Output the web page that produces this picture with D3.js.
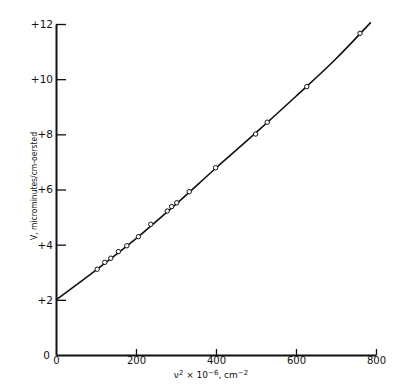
<!doctype html>
<html>
  <head>
    <script src="https://cdnjs.cloudflare.com/ajax/libs/d3/7.8.5/d3.min.js"></script>
    <style>
      body { margin: 0; background: #fff; }
      text { font-family: "DejaVu Sans", sans-serif; fill: #111; }
    </style>
  </head>
  <body>
    <svg width="410" height="384"></svg>
    <script>
        // measured points: nu^2 x 1e-6 vs V
        var pointX = [103, 122, 137, 156, 177, 206, 237, 278, 289, 302, 333, 399, 499, 528, 627, 760];
        var pointY = [3.11, 3.36, 3.51, 3.75, 3.96, 4.29, 4.74, 5.22, 5.38, 5.52, 5.92, 6.79, 8.01, 8.44, 9.73, 11.66];

        // fitted curve
        var curveX = [0, 100, 200, 300, 400, 500, 600, 700, 787];
        var curveY = [2.0, 3.08, 4.22, 5.47, 6.78, 8.06, 9.38, 10.74, 12.06];

        var xTicks = [0, 200, 400, 600, 800];
        var xTickLabels = ["0", "200", "400", "600", "800"];
        var yTicks = [0, 2, 4, 6, 8, 10, 12];
        var yTickLabels = ["0", "+2", "+4", "+6", "+8", "+10", "+12"];

        var svg = d3.select("svg");

        var x = d3.scaleLinear().domain([0, 800]).range([56, 376]);
        var y = d3.scaleLinear().domain([0, 12]).range([355, 24]);

        // x axis, ticks pointing up into the plot
        var xAxis = svg.append("g")
            .attr("transform", "translate(0," + y(0) + ")")
            .call(d3.axisBottom(x).tickValues(xTicks).tickSize(-6).tickSizeOuter(0)
                .tickFormat((d, i) => xTickLabels[i]));
        xAxis.select(".domain").attr("stroke", "#111").attr("stroke-width", 2);
        xAxis.selectAll(".tick line").attr("stroke", "#111").attr("stroke-width", 1.3);
        xAxis.selectAll(".tick text")
            .attr("y", 2).attr("dy", "0.71em")
            .style("font-size", "10px");
        xAxis.selectAll(".tick").filter(d => d === 0).select("line").remove();

        // y axis, ticks pointing right into the plot
        var yAxis = svg.append("g")
            .attr("transform", "translate(" + x(0) + ",0)")
            .call(d3.axisLeft(y).tickValues(yTicks).tickSize(-10).tickSizeOuter(0)
                .tickFormat((d, i) => yTickLabels[i]));
        yAxis.select(".domain").attr("stroke", "#111").attr("stroke-width", 2);
        yAxis.selectAll(".tick line").attr("stroke", "#111").attr("stroke-width", 1.3);
        yAxis.selectAll(".tick text")
            .attr("x", -3)
            .style("font-size", "10.5px");
        yAxis.selectAll(".tick").filter(d => d === 0).select("line").remove();
        yAxis.selectAll(".tick").filter(d => d === 0).select("text").attr("x", -6);

        // curve
        var line = d3.line()
            .x(d => x(d[0]))
            .y(d => y(d[1]))
            .curve(d3.curveMonotoneX);
        svg.append("path")
            .datum(curveX.map((v, i) => [v, curveY[i]]))
            .attr("d", line)
            .attr("fill", "none")
            .attr("stroke", "#111")
            .attr("stroke-width", 1.6);

        // points
        svg.append("g")
            .selectAll("circle")
            .data(pointX.map((v, i) => [v, pointY[i]]))
            .enter()
            .append("circle")
                .attr("cx", d => x(d[0]))
                .attr("cy", d => y(d[1]))
                .attr("r", 2.2)
                .attr("fill", "#fff")
                .attr("stroke", "#111")
                .attr("stroke-width", 1);

        // axis titles
        svg.append("text")
            .attr("x", 211)
            .attr("y", 378)
            .attr("text-anchor", "middle")
            .style("font-size", "9px")
            .html("\u03BD<tspan dy='-3' font-size='7px'>2</tspan><tspan dy='3'> \u00D7 10</tspan><tspan dy='-3' font-size='7px'>\u22126</tspan><tspan dy='3'>, cm</tspan><tspan dy='-3' font-size='7px'>\u22122</tspan>");

        svg.append("text")
            .attr("transform", "translate(37,186) rotate(-90)")
            .attr("text-anchor", "middle")
            .attr("textLength", 108)
            .attr("lengthAdjust", "spacingAndGlyphs")
            .style("font-size", "9px")
            .text("V, microminutes/cm-oersted");
    </script>
  </body>
</html>
